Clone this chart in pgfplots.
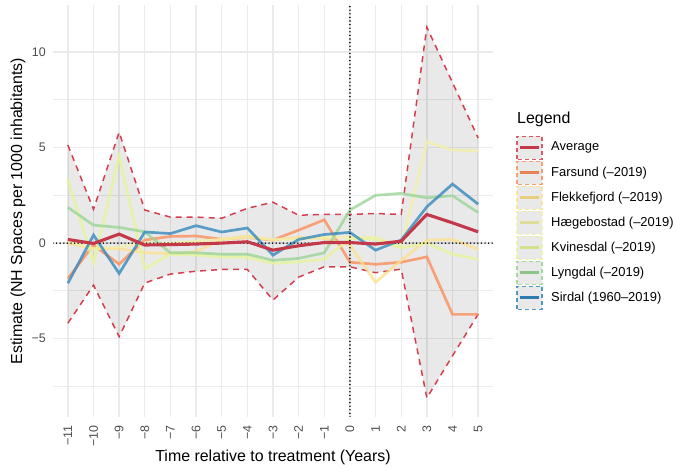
\documentclass[border=0pt]{standalone}
\usepackage{fontspec}
\setmainfont{Liberation Sans}
\usepackage{pgfplots}
\usepackage{pgfplotstable}
\pgfplotsset{compat=1.18}
\usepgfplotslibrary{fillbetween}

\definecolor{cavg}{HTML}{D53E4F}
\definecolor{cfar}{HTML}{FC8D59}
\definecolor{cfle}{HTML}{FEE08B}
\definecolor{chae}{HTML}{F3F0A8}
\definecolor{ckvi}{HTML}{E6F598}
\definecolor{clyn}{HTML}{99D594}
\definecolor{csir}{HTML}{3288BD}
\definecolor{gridc}{HTML}{EBEBEB}
\definecolor{tickc}{HTML}{4D4D4D}

\pgfplotstableread{
t    up     lo     avg    far    fle    hae    kvi    lyn    sir
-11  5.13  -4.19   0.19  -1.85   0.00   0.10   3.33   1.87  -2.10
-10  1.77  -2.20  -0.02  -0.10  -0.28  -0.30  -1.03   0.94   0.42
-9   5.80  -4.90   0.47  -1.10  -0.30  -0.20   4.55   0.82  -1.59
-8   1.73  -2.09  -0.10   0.16  -0.50   0.00  -1.33   0.59   0.58
-7   1.36  -1.62  -0.08   0.35  -0.55   0.00  -0.58  -0.51   0.50
-6   1.36  -1.47  -0.05   0.37  -0.45   0.10  -0.63  -0.51   0.91
-5   1.30  -1.38   0.00   0.20   0.20   0.20  -0.72  -0.58   0.58
-4   1.82  -1.38   0.07   0.30   0.37   0.30  -0.75  -0.58   0.79
-3   2.14  -2.98  -0.37   0.16   0.16   0.20  -1.06  -0.90  -0.63
-2   1.46  -1.78  -0.14   0.68   0.30   0.20  -0.98  -0.80   0.19
-1   1.50  -1.24   0.03   1.22   0.24   0.30  -0.85  -0.51   0.45
0    1.50  -1.24   0.03  -1.00  -0.10   0.30   0.25   1.73   0.56
1    1.55  -1.55  -0.05  -1.11  -2.05   0.30   0.20   2.50  -0.37
2    1.50  -1.36   0.10  -1.00  -0.90  -0.20  -0.25   2.60   0.16
3   11.30  -8.10   1.50  -0.72   0.16   5.30   0.00   2.37   1.90
4    8.40  -5.90   1.06  -3.73   0.19   4.87  -0.58   2.48   3.09
5    5.50  -3.72   0.59  -3.73  -0.33   4.82  -0.85   1.60   2.04
}\data

\begin{document}
\begin{tikzpicture}
\begin{axis}[
  at={(0,0)}, anchor=south west,
  scale only axis, width=440bp, height=412bp,
  xmin=-11.58, xmax=5.58, ymin=-9.1, ymax=12.46,
  axis line style={draw=none},
  major tick length=0pt, minor tick length=0pt,
  xtick={-11,-10,...,5},
  xticklabels={−11,−10,−9,−8,−7,−6,−5,−4,−3,−2,−1,0,1,2,3,4,5},
  ytick={-5,0,5,10},
  yticklabels={−5,0,5,10},
  minor ytick={-7.5,-2.5,2.5,7.5},
  grid=both,
  major grid style={draw=gridc, line width=1.4bp},
  minor grid style={draw=gridc, line width=1.1bp},
  x tick label style={rotate=90, anchor=east, inner sep=0pt, text=tickc,
     font=\fontsize{12.5}{14}\selectfont},
  y tick label style={anchor=east, inner sep=0pt, text=tickc,
     font=\fontsize{12.5}{14}\selectfont},
  xticklabel shift=8bp,
  yticklabel shift=7bp,
  xlabel={Time relative to treatment (Years)},
  ylabel={Estimate (NH Spaces per 1000 inhabitants)},
  xlabel style={at={(axis description cs:0.5,-0.097)}, anchor=center, inner sep=0pt,
     font=\fontsize{16}{19}\selectfont},
  ylabel style={at={(axis description cs:-0.0795,0.5)}, anchor=center, inner sep=0pt,
     font=\fontsize{16}{19}\selectfont},
]
\addplot[name path=up, draw=none] table[x=t,y=up]{\data};
\addplot[name path=lo, draw=none] table[x=t,y=lo]{\data};
\addplot[fill=black, fill opacity=0.085, draw=none] fill between[of=up and lo];
\addplot[draw=cavg, line width=1.5bp, dash pattern=on 6bp off 5bp] table[x=t,y=up]{\data};
\addplot[draw=cavg, line width=1.5bp, dash pattern=on 6bp off 5bp] table[x=t,y=lo]{\data};

\addplot[draw=cfar, line width=2.7bp, opacity=0.78] table[x=t,y=far]{\data};
\addplot[draw=cfle, line width=2.7bp, opacity=0.78] table[x=t,y=fle]{\data};
\addplot[draw=chae, line width=2.7bp, opacity=0.78] table[x=t,y=hae]{\data};
\addplot[draw=ckvi, line width=2.7bp, opacity=0.78] table[x=t,y=kvi]{\data};
\addplot[draw=clyn, line width=2.7bp, opacity=0.78] table[x=t,y=lyn]{\data};
\addplot[draw=csir, line width=2.7bp, opacity=0.78] table[x=t,y=sir]{\data};

\addplot[black, line width=1.7bp, line cap=round, dash pattern=on 0bp off 3.6bp] coordinates {(-11.58,0) (5.58,0)};
\addplot[black, line width=1.7bp, line cap=round, dash pattern=on 0bp off 3.6bp] coordinates {(0,-9.1) (0,12.46)};

\addplot[draw=cavg!92!black, line width=3.1bp] table[x=t,y=avg]{\data};
\end{axis}

\node[anchor=west, inner sep=0pt, font=\fontsize{16}{19}\selectfont] at (464bp,298bp) {Legend};
\foreach \c/\n [count=\i from 0] in {cavg/Average, cfar/Farsund (–2019), cfle/Flekkefjord (–2019), chae/Hægebostad (–2019), ckvi/Kvinesdal (–2019), clyn/Lyngdal (–2019), csir/Sirdal (1960–2019)} {
  \pgfmathsetmacro\yc{269.3-25*\i}
  \pgfmathsetmacro\ya{\yc-11.5}
  \pgfmathsetmacro\yb{\yc+11.5}
  \fill[black, opacity=0.085] (464bp,\ya bp) rectangle (489bp,\yb bp);
  \draw[draw=\c, opacity=0.85, line width=1.3bp, dash pattern=on 4bp off 3bp] (464bp,\ya bp) rectangle (489bp,\yb bp);
  \draw[draw=\c!92!black, line width=2.7bp] (467bp,\yc bp) -- (486bp,\yc bp);
  \node[anchor=west, inner sep=0pt, font=\fontsize{13}{15}\selectfont] at (498bp,\yc bp) {\n};
}
\pgfresetboundingbox
\path[use as bounding box] (-53bp,-53bp) rectangle (623bp,417bp);
\end{tikzpicture}
\end{document}
